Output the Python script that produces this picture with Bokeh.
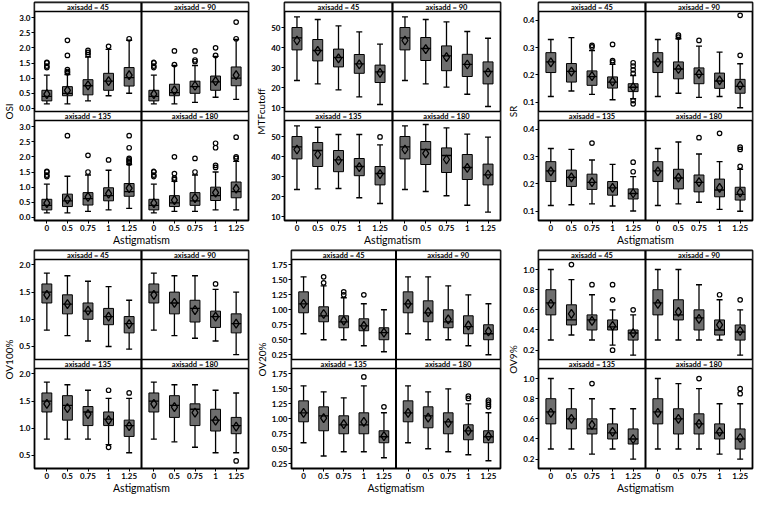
from bokeh.plotting import figure
from bokeh.layouts import column, row
from bokeh.models import Range1d, FixedTicker, ColumnDataSource, Span
from bokeh.core.properties import value
from bokeh.embed import file_html
from bokeh.resources import INLINE

# ---------------- data ----------------
cats = ["0", "0.5", "0.75", "1", "1.25"]
facets = ["45", "90", "135", "180"]

osi_lo = [[.15, .15, .25, .42, .50], [.15, .15, .20, .37, .30], [.15, .15, .20, .25, .30], [.15, .20, .20, .25, .25]]
osi_q1 = [[.25, .42, .45, .60, .74], [.25, .42, .50, .60, .75], [.25, .36, .41, .55, .70], [.25, .36, .40, .56, .65]]
osi_med = [[.40, .50, .75, .90, 1.02], [.40, .52, .72, .88, 1.00], [.40, .55, .62, .72, .85], [.40, .48, .55, .72, .85]]
osi_q3 = [[.60, .72, .95, 1.16, 1.35], [.60, .80, .90, 1.07, 1.37], [.60, .77, .82, .98, 1.12], [.60, .72, .82, 1.00, 1.17]]
osi_hi = [[1.10, 1.12, 1.70, 1.95, 2.25], [1.10, 1.42, 1.42, 1.72, 2.28], [1.10, 1.36, 1.40, 1.56, 1.75], [1.10, 1.19, 1.40, 1.50, 1.85]]
osi_mean = [[.47, .60, .76, .90, 1.10], [.47, .60, .75, .90, 1.10], [.47, .60, .68, .79, .97], [.47, .57, .64, .82, .95]]
osi_out = [
    [[1.35, 1.4, 1.5, 1.52], [1.18, 1.22, 1.28, 1.75, 2.25], [1.78, 1.85, 1.92], [2.05], [2.30]],
    [[1.35, 1.4, 1.5, 1.52], [1.45, 1.9], [1.55, 1.6, 1.9], [1.75, 2.0], [2.30, 2.85]],
    [[1.35, 1.4, 1.5, 1.52], [2.7], [1.5, 2.05], [1.9], [1.8, 1.85, 1.9, 1.95, 2.3, 2.7]],
    [[1.35, 1.4, 1.5, 1.52], [1.25, 1.3, 1.45, 2.0], [1.5, 1.95], [1.65, 1.72, 2.3, 2.45], [1.95, 2.0, 2.65]],
]
osi_ticks = [0.0, 0.5, 1.0, 1.5, 2.0, 2.5, 3.0]
osi_tick_labels = ["0.0", "0.5", "1.0", "1.5", "2.0", "2.5", "3.0"]

mtf_lo = [[23.5, 21.8, 18.8, 15.3, 11.5], [23.5, 21.8, 20.2, 16.6, 10.5], [23.5, 23.8, 24.0, 19.4, 16.5], [23.5, 22.5, 20.4, 15.6, 12.2]]
mtf_q1 = [[38.8, 33.3, 30.3, 27.1, 22.5], [38.8, 33.5, 28.4, 25.5, 21.8], [38.8, 35.0, 32.4, 30.4, 25.8], [38.8, 36.0, 32.0, 28.5, 25.8]]
mtf_med = [[44.8, 38.5, 35.0, 31.8, 27.8], [44.8, 39.5, 35.8, 31.6, 28.0], [44.8, 43.0, 38.3, 35.0, 31.5], [44.8, 43.5, 40.5, 34.5, 30.8]]
mtf_q3 = [[50.0, 44.0, 39.2, 36.5, 31.2], [50.0, 45.0, 40.8, 36.6, 32.8], [50.0, 47.0, 43.0, 39.0, 35.0], [50.0, 47.5, 44.3, 41.0, 36.2]]
mtf_hi = [[55.3, 54.0, 50.8, 47.8, 41.7], [55.3, 54.0, 52.8, 48.0, 44.6], [55.3, 54.6, 51.0, 51.0, 45.8], [55.3, 56.0, 54.3, 51.2, 49.7]]
mtf_mean = [[43.5, 38.3, 34.6, 31.6, 27.3], [43.5, 39.2, 35.2, 31.5, 27.5], [43.5, 41.0, 38.0, 34.7, 31.2], [43.5, 41.6, 38.5, 34.3, 31.0]]
mtf_out = [[[], [], [], [], []], [[], [], [], [], []], [[], [], [], [], [49.8]], [[], [], [], [], []]]
mtf_ticks = [10, 20, 30, 40, 50]
mtf_tick_labels = ["10", "20", "30", "40", "50"]

sr_lo = [[.121, .141, .129, .109, .113], [.121, .133, .118, .121, .080], [.121, .124, .127, .119, .101], [.121, .127, .133, .107, .100]]
sr_q1 = [[.209, .174, .162, .152, .139], [.209, .186, .168, .151, .133], [.209, .191, .180, .159, .145], [.209, .182, .171, .153, .141]]
sr_med = [[.248, .213, .194, .174, .155], [.248, .222, .202, .178, .158], [.248, .224, .206, .186, .165], [.248, .222, .206, .178, .162]]
sr_q3 = [[.282, .242, .215, .193, .168], [.282, .248, .226, .207, .184], [.282, .251, .236, .209, .182], [.282, .254, .233, .218, .188]]
sr_hi = [[.330, .337, .290, .239, .198], [.330, .333, .306, .284, .241], [.330, .327, .288, .272, .227], [.330, .354, .310, .282, .254]]
sr_mean = [[.246, .212, .196, .176, .155], [.246, .222, .204, .180, .162], [.246, .224, .207, .186, .166], [.246, .223, .207, .186, .168]]
sr_out = [
    [[], [], [.303, .309], [.247, .253, .312], [.094, .106, .206, .219, .233, .245]],
    [[], [.339, .346], [.327], [], [.272, .419]],
    [[], [], [.350], [], [.245, .280]],
    [[], [], [.370], [.386], [.265, .327, .335]],
]
sr_ticks = [0.1, 0.2, 0.3, 0.4]
sr_tick_labels = ["0.1", "0.2", "0.3", "0.4"]

ov100_lo = [[.80, .70, .60, .50, .45], [.80, .70, .65, .60, .35], [.80, .80, .80, .70, .55], [.80, .75, .65, .55, .55]]
ov100_q1 = [[1.30, 1.10, 1.00, .90, .75], [1.30, 1.10, .95, .85, .75], [1.30, 1.15, 1.05, 1.05, .85], [1.30, 1.20, 1.05, .95, .90]]
ov100_med = [[1.50, 1.28, 1.15, 1.05, .92], [1.50, 1.30, 1.20, 1.05, .92], [1.50, 1.42, 1.30, 1.17, 1.05], [1.50, 1.42, 1.35, 1.15, 1.05]]
ov100_q3 = [[1.65, 1.45, 1.30, 1.20, 1.05], [1.65, 1.50, 1.35, 1.15, 1.10], [1.65, 1.60, 1.40, 1.30, 1.15], [1.65, 1.60, 1.45, 1.35, 1.20]]
ov100_hi = [[1.85, 1.80, 1.70, 1.60, 1.35], [1.85, 1.80, 1.80, 1.55, 1.50], [1.85, 1.80, 1.70, 1.55, 1.55], [1.85, 1.80, 1.80, 1.70, 1.65]]
ov100_mean = [[1.45, 1.28, 1.16, 1.05, .91], [1.45, 1.30, 1.17, 1.05, .92], [1.45, 1.37, 1.26, 1.15, 1.04], [1.45, 1.39, 1.29, 1.14, 1.03]]
ov100_out = [[[], [], [], [], []], [[], [], [], [1.65], []], [[], [], [], [.65, 1.70], [1.65]], [[], [], [], [], [.40]]]
ov100_ticks = [0.5, 1.0, 1.5, 2.0]
ov100_tick_labels = ["0.5", "1.0", "1.5", "2.0"]

ov20_lo = [[.60, .50, .50, .40, .30], [.60, .50, .50, .40, .25], [.60, .38, .45, .45, .35], [.60, .50, .45, .40, .30]]
ov20_q1 = [[.95, .80, .70, .65, .50], [.95, .80, .70, .60, .50], [.95, .80, .75, .75, .60], [.95, .85, .75, .65, .60]]
ov20_med = [[1.10, .90, .80, .73, .62], [1.10, .95, .80, .72, .60], [1.10, 1.05, .90, .90, .70], [1.10, 1.05, .95, .80, .70]]
ov20_q3 = [[1.30, 1.05, .90, .85, .70], [1.30, 1.15, 1.00, .90, .75], [1.30, 1.20, 1.05, 1.10, .80], [1.30, 1.20, 1.10, .90, .80]]
ov20_hi = [[1.55, 1.40, 1.20, 1.10, 1.00], [1.55, 1.55, 1.40, 1.25, 1.10], [1.55, 1.45, 1.35, 1.55, 1.10], [1.55, 1.45, 1.50, 1.25, 1.10]]
ov20_mean = [[1.10, .93, .82, .73, .62], [1.10, .96, .84, .74, .64], [1.10, 1.01, .91, .95, .71], [1.10, 1.02, .93, .80, .71]]
ov20_out = [[[], [1.45, 1.55], [1.25, 1.30], [1.25], []], [[], [], [], [], []],
            [[], [], [], [1.70], [1.20]], [[], [], [], [1.34, 1.38], [1.20, 1.24, 1.28, 1.31]]]
ov20_ticks = [0.25, 0.50, 0.75, 1.00, 1.25, 1.50, 1.75]
ov20_tick_labels = ["0.25", "0.50", "0.75", "1.00", "1.25", "1.50", "1.75"]

ov9_lo = [[.30, .35, .30, .25, .15], [.30, .30, .30, .30, .15], [.30, .30, .25, .30, .20], [.30, .30, .30, .25, .20]]
ov9_q1 = [[.55, .45, .40, .40, .30], [.55, .50, .40, .35, .30], [.55, .50, .45, .40, .35], [.55, .45, .45, .40, .30]]
ov9_med = [[.67, .50, .50, .43, .37], [.67, .55, .52, .40, .38], [.67, .60, .50, .46, .40], [.67, .60, .55, .46, .40]]
ov9_q3 = [[.80, .65, .55, .50, .40], [.80, .70, .60, .50, .45], [.80, .70, .60, .55, .50], [.80, .70, .65, .55, .50]]
ov9_hi = [[1.00, .90, .75, .60, .55], [1.00, 1.00, .85, .70, .60], [1.00, .90, .80, .70, .70], [1.00, .95, .90, .75, .75]]
ov9_mean = [[.66, .56, .49, .44, .37], [.66, .58, .51, .45, .39], [.66, .60, .54, .47, .40], [.66, .60, .55, .47, .41]]
ov9_out = [[[], [1.05], [.85], [.20, .70, .85], [.60]], [[], [], [], [.75], [.70]],
           [[], [], [.95], [], []], [[], [], [1.00], [], [.85, .90]]]
ov9_ticks = [0.2, 0.4, 0.6, 0.8, 1.0]
ov9_tick_labels = ["0.2", "0.4", "0.6", "0.8", "1.0"]

# ---------------- style / layout ----------------
FONT = "Lato"
FIG_W = 252
FRAME_H = 218
STRIP_PX = 9
X0 = -0.6
FACET_W = 5.2
BOX_W = 0.48
BOX_FILL = "#6e6e6e"


def panel(ylabel, lo, q1, med, q3, hi, mean, out, ticks, tick_labels, yr):
    ymin, ymax = yr
    D = ymax - ymin
    hp = (FRAME_H - 2 * STRIP_PX) / 2.0
    s = D * STRIP_PX / hp
    p = figure(width=FIG_W, frame_height=FRAME_H,
               x_range=Range1d(X0, X0 + 2 * FACET_W),
               y_range=Range1d(ymin, ymax + D + 2 * s),
               output_backend="svg", toolbar_location=None,
               min_border_top=2, min_border_right=4, min_border_left=1, min_border_bottom=1)
    p.grid.visible = False
    p.outline_line_color = "black"
    p.outline_line_width = 1.8
    p.background_fill_color = "white"

    # strips
    lefts = [X0 + (f % 2) * FACET_W for f in range(4)]
    rights = [l + FACET_W for l in lefts]
    bots = [(ymax + D + s) if f < 2 else ymax for f in range(4)]
    tops = [b + s for b in bots]
    p.quad(left=lefts, right=rights, bottom=bots, top=tops,
           fill_color="white", line_color="black", line_width=1.3)
    p.text(x=[(l + r) / 2 for l, r in zip(lefts, rights)], y=[(b + t) / 2 for b, t in zip(bots, tops)],
           text=["axisadd = " + f for f in facets], text_align="center", text_baseline="middle",
           text_font=value(FONT), text_font_size="7.5px", text_font_style="bold", text_color="black")

    xt, xl = [], {}
    for f in range(4):
        yoff = (D + s) if f < 2 else 0.0
        xoff = (f % 2) * FACET_W
        xs = [i + xoff for i in range(len(cats))]
        sh = lambda arr: [v + yoff for v in arr[f]]
        src = ColumnDataSource(dict(x=xs, lo=sh(lo), q1=sh(q1), med=sh(med), q3=sh(q3), hi=sh(hi),
                                    mean=sh(mean),
                                    xl=[x - BOX_W / 2 for x in xs], xr=[x + BOX_W / 2 for x in xs]))
        p.segment(x0="x", x1="x", y0="lo", y1="q1", source=src, line_color="black", line_width=1.3)
        p.segment(x0="x", x1="x", y0="q3", y1="hi", source=src, line_color="black", line_width=1.3)
        p.scatter(x="x", y="lo", source=src, marker="dash", size=6, line_color="black", line_width=1.4)
        p.scatter(x="x", y="hi", source=src, marker="dash", size=6, line_color="black", line_width=1.4)
        p.vbar(x="x", width=BOX_W, bottom="q1", top="q3", source=src,
               fill_color=BOX_FILL, line_color="black", line_width=1)
        p.segment(x0="xl", x1="xr", y0="med", y1="med", source=src, line_color="black", line_width=1.3)
        p.scatter(x="x", y="mean", source=src, marker="diamond", size=9,
                  fill_color=None, line_color="black", line_width=1.3)
        ox, oy = [], []
        for i in range(len(cats)):
            for v in out[f][i]:
                ox.append(xs[i])
                oy.append(v + yoff)
        if ox:
            p.scatter(x=ox, y=oy, marker="circle", size=4.5, fill_color=None,
                      line_color="black", line_width=1.2)
        if f >= 2:
            for i, x in enumerate(xs):
                xt.append(x)
                xl[x] = cats[i]

    p.add_layout(Span(location=X0 + FACET_W, dimension="height", line_color="black", line_width=2))

    yt, yl = [], {}
    for off in (0.0, D + s):
        for t, lab in zip(ticks, tick_labels):
            yt.append(t + off)
            yl[t + off] = lab

    p.xaxis.ticker = FixedTicker(ticks=xt)
    p.xaxis.major_label_overrides = xl
    p.yaxis.ticker = FixedTicker(ticks=yt)
    p.yaxis.major_label_overrides = yl
    for ax in (p.xaxis, p.yaxis):
        ax.axis_line_color = None
        ax.major_tick_line_color = "black"
        ax.major_tick_line_width = 1
        ax.major_tick_in = 0
        ax.major_tick_out = 3
        ax.minor_tick_line_color = None
        ax.major_label_text_font = FONT
        ax.major_label_text_font_style = "bold"
        ax.major_label_text_font_size = "8px"
        ax.major_label_text_color = "black"
        ax.major_label_standoff = 1
        ax.axis_label_text_font = FONT
        ax.axis_label_text_font_style = "normal"
        ax.axis_label_text_color = "black"
    p.xaxis.axis_label = "Astigmatism"
    p.xaxis.axis_label_text_font_size = "10.5px"
    p.xaxis.axis_label_standoff = 0
    p.yaxis.axis_label = ylabel
    p.yaxis.axis_label_text_font_size = "10px"
    p.yaxis.axis_label_standoff = 1
    return p


p1 = panel("OSI", osi_lo, osi_q1, osi_med, osi_q3, osi_hi, osi_mean, osi_out, osi_ticks, osi_tick_labels, (-0.1, 3.2))
p2 = panel("MTFcutoff", mtf_lo, mtf_q1, mtf_med, mtf_q3, mtf_hi, mtf_mean, mtf_out, mtf_ticks, mtf_tick_labels, (8.0, 58.0))
p3 = panel("SR", sr_lo, sr_q1, sr_med, sr_q3, sr_hi, sr_mean, sr_out, sr_ticks, sr_tick_labels, (0.066, 0.433))
p4 = panel("OV100%", ov100_lo, ov100_q1, ov100_med, ov100_q3, ov100_hi, ov100_mean, ov100_out, ov100_ticks, ov100_tick_labels, (0.26, 2.1))
p5 = panel("OV20%", ov20_lo, ov20_q1, ov20_med, ov20_q3, ov20_hi, ov20_mean, ov20_out, ov20_ticks, ov20_tick_labels, (0.17, 1.84))
p6 = panel("OV9%", ov9_lo, ov9_q1, ov9_med, ov9_q3, ov9_hi, ov9_mean, ov9_out, ov9_ticks, ov9_tick_labels, (0.107, 1.10))

layout = column(row(p1, p2, p3), row(p4, p5, p6))
open("out.html", "w").write(file_html(layout, INLINE))
